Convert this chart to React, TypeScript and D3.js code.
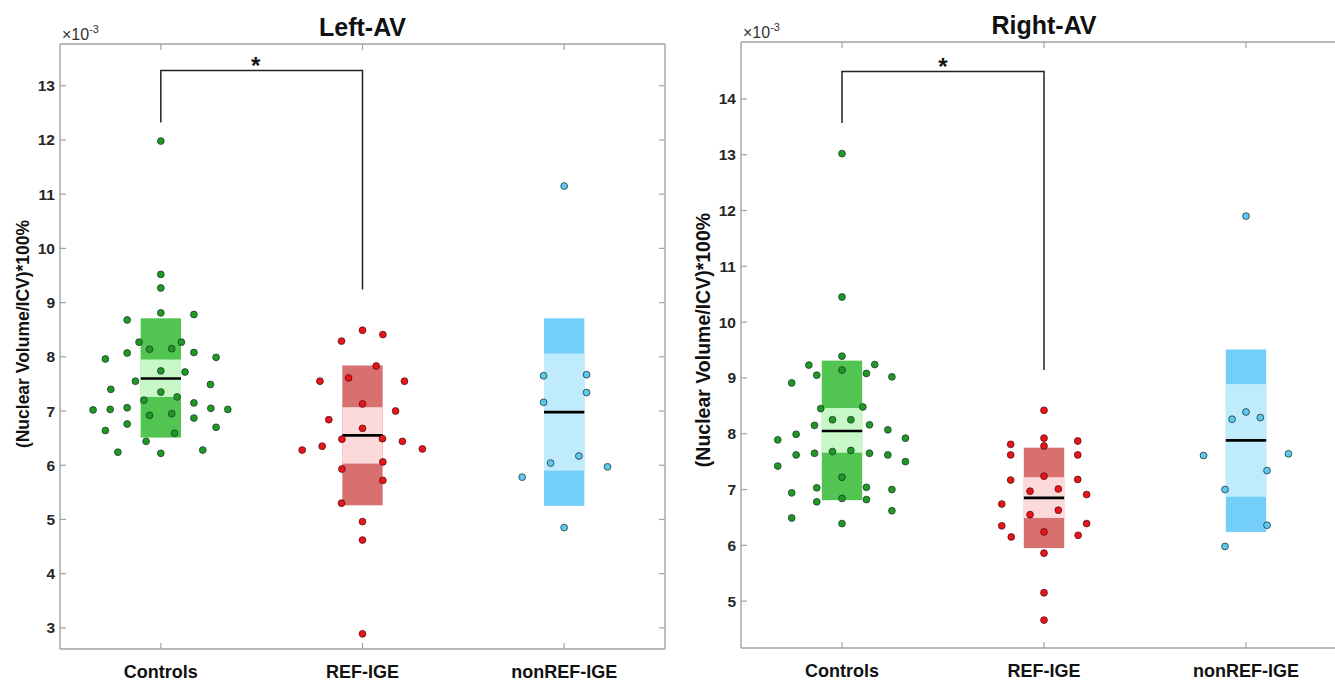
import React from "react";
import * as d3 from "d3";

// ---------- data ----------
const categories = ["Controls", "REF-IGE", "nonREF-IGE"];
const panelTitles = ["Left-AV", "Right-AV"];
const yLabel = "(Nuclear Volume/ICV)*100%";
const leftTicks = [3, 4, 5, 6, 7, 8, 9, 10, 11, 12, 13];
const rightTicks = [5, 6, 7, 8, 9, 10, 11, 12, 13, 14];

// points: [value (x1e-3), horizontal jitter in category units]
const leftControls: [number, number][] = [
  [11.98, 0], [9.52, 0], [9.27, 0], [8.81, 0], [8.68, -0.167], [8.78, 0.164], [8.27, -0.108], [8.27, 0.102],
  [8.14, -0.056], [8.15, 0.054], [7.96, -0.275], [8.07, -0.167], [8.08, 0.164], [7.99, 0.274], [7.74, 0],
  [7.72, 0.12], [7.55, -0.126], [7.4, -0.248], [7.49, 0.246], [7.35, 0], [7.2, -0.084], [7.26, 0.081],
  [7.02, -0.336], [7.03, -0.251], [7.06, -0.167], [7.15, 0.164], [7.05, 0.248], [7.03, 0.332], [6.92, -0.056],
  [6.95, 0.054], [6.64, -0.275], [6.76, -0.167], [6.87, 0.164], [6.7, 0.274], [6.59, 0.068], [6.44, -0.073],
  [6.24, -0.213], [6.22, 0], [6.28, 0.208],
];
const leftREF: [number, number][] = [
  [8.49, 0], [8.29, -0.104], [8.41, 0.101], [7.83, 0.068], [7.61, -0.069], [7.55, -0.211], [7.55, 0.208],
  [7.13, 0], [6.84, -0.167], [7.0, 0.164], [6.68, 0], [6.48, -0.102], [6.49, 0.099], [6.35, -0.2], [6.44, 0.198],
  [6.28, -0.299], [6.3, 0.297], [6.06, 0.101], [5.93, -0.102], [5.72, 0.101], [5.3, -0.104], [4.96, 0],
  [4.62, 0], [2.89, 0],
];
const leftNonREF: [number, number][] = [
  [11.15, 0], [7.65, -0.102], [7.67, 0.111], [7.34, 0.111], [7.16, -0.102], [6.17, 0.073], [6.04, -0.067],
  [5.97, 0.215], [5.78, -0.208], [4.85, 0],
];
const rightControls: [number, number][] = [
  [13.02, 0], [10.45, 0], [9.39, 0], [9.23, -0.164], [9.24, 0.162], [9.14, 0], [9.05, -0.125], [9.08, 0.121],
  [8.91, -0.249], [9.02, 0.247], [8.45, -0.105], [8.48, 0.103], [8.25, -0.047], [8.25, 0.044], [8.15, -0.136],
  [8.16, 0.136], [8.07, 0.227], [7.99, -0.227], [7.89, -0.318], [7.92, 0.314], [7.62, -0.227], [7.65, -0.136],
  [7.68, -0.047], [7.7, 0.044], [7.65, 0.136], [7.62, 0.227], [7.5, 0.314], [7.42, -0.318], [7.22, 0],
  [6.94, -0.249], [7.03, -0.125], [7.04, 0.121], [7.0, 0.247], [6.78, -0.125], [6.84, 0], [6.82, 0.121],
  [6.62, 0.247], [6.49, -0.249], [6.39, 0],
];
const rightREF: [number, number][] = [
  [8.42, 0], [7.92, 0], [7.78, 0], [7.81, -0.165], [7.87, 0.167], [7.62, -0.165], [7.62, 0.167], [7.17, -0.165],
  [7.18, 0.167], [7.24, 0], [6.97, -0.069], [7.01, 0.071], [6.91, 0.211], [6.74, -0.209], [6.55, -0.069],
  [6.63, 0.071], [6.35, -0.209], [6.39, 0.211], [6.15, -0.162], [6.18, 0.169], [6.24, 0], [5.86, 0],
  [5.15, 0], [4.66, 0],
];
const rightNonREF: [number, number][] = [
  [11.9, 0], [8.39, 0], [8.26, -0.069], [8.29, 0.071], [7.61, -0.21], [7.64, 0.21], [7.34, 0.104],
  [7.0, -0.104], [6.36, 0.104], [5.98, -0.104],
];

// box stats: [mean-SD, mean-CI, mean, mean+CI, mean+SD]
const leftStats = [
  [6.51, 7.26, 7.6, 7.95, 8.71],
  [5.26, 6.03, 6.55, 7.07, 7.84],
  [5.25, 5.9, 6.98, 8.06, 8.71],
];
const rightStats = [
  [6.81, 7.66, 8.05, 8.46, 9.31],
  [5.95, 6.49, 6.85, 7.22, 7.75],
  [6.24, 6.87, 7.88, 8.89, 9.51],
];

// significance brackets: [top, left end, right end, star x]
const leftBracket = [13.28, 12.32, 9.24, 1.47];
const rightBracket = [14.49, 13.57, 9.14, 1.5];

const pointFill = ["#1f9a1f", "#e8141c", "#5ec8f0"];
const darkFill = ["#52c452", "#d87070", "#73cff8"];
const lightFill = ["#c8f8c8", "#fddada", "#c0ebfc"];

const FONT = "'Liberation Sans', Arial, Helvetica, sans-serif";

type PanelProps = {
  left: number; right: number; top: number; bottom: number;
  domain: [number, number]; ticks: number[];
  groups: [number, number][][]; stats: number[][]; bracket: number[];
  title: string; titleY: number; expY: number; labelY: number;
  yLabelX: number; yLabelY: number; yLabelSize: number;
};

function Panel(p: PanelProps) {
  const x = d3.scaleLinear().domain([0.5, 3.5]).range([p.left, p.right]);
  const y = d3.scaleLinear().domain(p.domain).range([p.bottom, p.top]);
  const hw = 0.1;
  const axisColor = "#a3a3a3";
  const tickLen = 6;
  const [bTop, bL, bR, starX] = p.bracket;
  const bracketPath = d3.line()([
    [x(1), y(bL)], [x(1), y(bTop)], [x(2), y(bTop)], [x(2), y(bR)],
  ]);
  return (
    <g>
      {/* boxes */}
      {p.stats.map((s, i) => (
        <g key={"b" + i}>
          <rect x={x(i + 1 - hw)} width={x(i + 1 + hw) - x(i + 1 - hw)} y={y(s[4])} height={y(s[0]) - y(s[4])} fill={darkFill[i]} />
          <rect x={x(i + 1 - hw)} width={x(i + 1 + hw) - x(i + 1 - hw)} y={y(s[3])} height={y(s[1]) - y(s[3])} fill={lightFill[i]} />
          <line x1={x(i + 1 - hw)} x2={x(i + 1 + hw)} y1={y(s[2])} y2={y(s[2])} stroke="#000" strokeWidth={2.6} />
        </g>
      ))}
      {/* points */}
      {p.groups.map((g, i) =>
        g.map((d, j) => (
          <circle key={"p" + i + "-" + j} cx={x(i + 1 + d[1])} cy={y(d[0])} r={3.4}
            fill={pointFill[i]} stroke={i === 1 ? "#5a1010" : "#1d3a3a"} strokeWidth={0.8} />
        ))
      )}
      {/* bracket */}
      <path d={bracketPath || ""} fill="none" stroke="#222" strokeWidth={1.5} />
      <text x={x(starX)} y={y(bTop) + 3} textAnchor="middle" fontFamily={FONT} fontWeight="bold" fontSize={24} fill="#111">*</text>
      {/* axes box */}
      <line x1={p.left} x2={p.left} y1={p.top} y2={p.bottom} stroke={axisColor} strokeWidth={1.4} />
      <line x1={p.right} x2={p.right} y1={p.top} y2={p.bottom} stroke={axisColor} strokeWidth={1.4} />
      <line x1={p.left} x2={p.right} y1={p.top} y2={p.top} stroke={axisColor} strokeWidth={1.4} />
      <line x1={p.left} x2={p.right} y1={p.bottom} y2={p.bottom} stroke={axisColor} strokeWidth={1.4} />
      {/* y ticks */}
      {p.ticks.map((t) => (
        <g key={"t" + t}>
          <line x1={p.left} x2={p.left + tickLen} y1={y(t)} y2={y(t)} stroke={axisColor} strokeWidth={1.2} />
          <line x1={p.right} x2={p.right - tickLen} y1={y(t)} y2={y(t)} stroke={axisColor} strokeWidth={1.2} />
          <text x={p.left - 5} y={y(t) + 5.5} textAnchor="end" fontFamily={FONT} fontWeight="bold" fontSize={15.5} fill="#262626">{t}</text>
        </g>
      ))}
      {/* x ticks & labels */}
      {categories.map((c, i) => (
        <g key={"c" + i}>
          <line x1={x(i + 1)} x2={x(i + 1)} y1={p.bottom} y2={p.bottom - tickLen} stroke={axisColor} strokeWidth={1.2} />
          <line x1={x(i + 1)} x2={x(i + 1)} y1={p.top} y2={p.top + tickLen} stroke={axisColor} strokeWidth={1.2} />
          <text x={x(i + 1)} y={p.labelY} textAnchor="middle" fontFamily={FONT} fontWeight="bold" fontSize={18} fill="#111">{c}</text>
        </g>
      ))}
      {/* exponent */}
      <text x={p.left + 2} y={p.expY} fontFamily={FONT} fontSize={16} fill="#333">
        ×10<tspan dy={-7} fontSize={11}>-3</tspan>
      </text>
      {/* title */}
      <text x={x(2)} y={p.titleY} textAnchor="middle" fontFamily={FONT} fontWeight="bold" fontSize={25} fill="#111">{p.title}</text>
      {/* y label */}
      <text transform={`translate(${p.yLabelX},${p.yLabelY}) rotate(-90)`} textAnchor="middle"
        dominantBaseline="middle" fontFamily={FONT} fontWeight="bold" fontSize={p.yLabelSize} fill="#111">{yLabel}</text>
    </g>
  );
}

export default function App() {
  return (
    <svg width={1335} height={681} style={{ position: "absolute", left: 0, top: 0, background: "#fff" }}>
      <rect width={1335} height={681} fill="#fff" />
      <Panel left={60} right={665} top={44} bottom={649} domain={[2.61, 13.77]} ticks={leftTicks}
        groups={[leftControls, leftREF, leftNonREF]} stats={leftStats} bracket={leftBracket}
        title={panelTitles[0]} titleY={36} expY={40} labelY={678}
        yLabelX={24} yLabelY={334} yLabelSize={17.5} />
      <Panel left={741} right={1347} top={42} bottom={648} domain={[4.16, 15.02]} ticks={rightTicks}
        groups={[rightControls, rightREF, rightNonREF]} stats={rightStats} bracket={rightBracket}
        title={panelTitles[1]} titleY={34} expY={38} labelY={677}
        yLabelX={705} yLabelY={340} yLabelSize={19.5} />
    </svg>
  );
}
